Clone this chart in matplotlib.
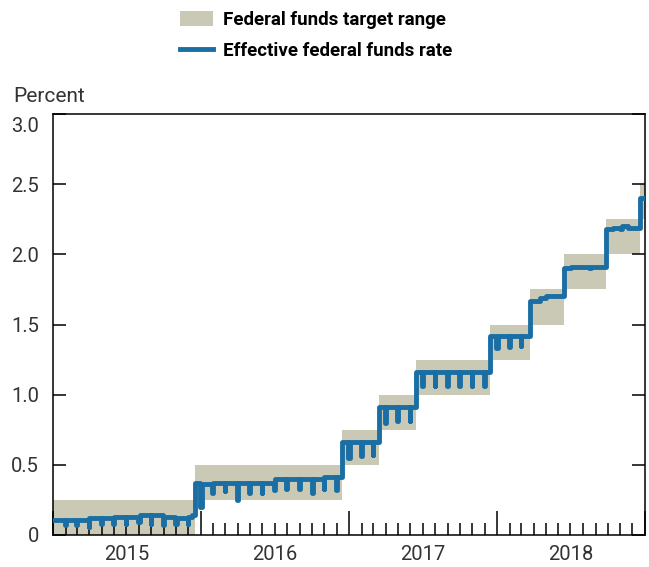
import numpy as np
import matplotlib
matplotlib.use("Agg")
import matplotlib.pyplot as plt
import matplotlib.dates as mdates
from matplotlib.patches import Patch
from matplotlib.lines import Line2D
from matplotlib.transforms import blended_transform_factory, ScaledTranslation

plt.rcParams['font.family'] = ['Roboto', 'DejaVu Sans']

# Federal funds target range (changes take effect on these dates)
range_dates = ["2015-01-01", "2015-12-17", "2016-12-15", "2017-03-16", "2017-06-15",
               "2017-12-14", "2018-03-22", "2018-06-14", "2018-09-27", "2018-12-20",
               "2019-01-01"]
range_lower = [0.00, 0.25, 0.50, 0.75, 1.00, 1.25, 1.50, 1.75, 2.00, 2.25, 2.25]
range_upper = [0.25, 0.50, 0.75, 1.00, 1.25, 1.50, 1.75, 2.00, 2.25, 2.50, 2.50]

# Effective federal funds rate (step series, month-end dips)
effr_dates = [
    "2015-01-01", "2015-01-30", "2015-02-02", "2015-02-27", "2015-03-02", "2015-03-31",
    "2015-04-01", "2015-04-30", "2015-05-01", "2015-05-29", "2015-06-01", "2015-06-30",
    "2015-07-01", "2015-07-31", "2015-08-03", "2015-08-31", "2015-09-01", "2015-09-30",
    "2015-10-01", "2015-10-30", "2015-11-02", "2015-11-30", "2015-12-01", "2015-12-10",
    "2015-12-17", "2015-12-31",
    "2016-01-04", "2016-01-29", "2016-02-01", "2016-02-29", "2016-03-01", "2016-03-31",
    "2016-04-01", "2016-04-29", "2016-05-02", "2016-05-31", "2016-06-01", "2016-06-30",
    "2016-07-01", "2016-07-29", "2016-08-01", "2016-08-31", "2016-09-01", "2016-09-30",
    "2016-10-03", "2016-10-31", "2016-11-01", "2016-11-30", "2016-12-01", "2016-12-15",
    "2016-12-30",
    "2017-01-03", "2017-01-31", "2017-02-01", "2017-02-28", "2017-03-01", "2017-03-16",
    "2017-03-31", "2017-04-03", "2017-04-28", "2017-05-01", "2017-05-31", "2017-06-01",
    "2017-06-15", "2017-06-30", "2017-07-03", "2017-07-31", "2017-08-01", "2017-08-31",
    "2017-09-01", "2017-09-29", "2017-10-02", "2017-10-31", "2017-11-01", "2017-11-30",
    "2017-12-01", "2017-12-14", "2017-12-29",
    "2018-01-02", "2018-01-31", "2018-02-01", "2018-02-28", "2018-03-01", "2018-03-22",
    "2018-04-16", "2018-05-01", "2018-06-14", "2018-07-02", "2018-08-15", "2018-08-20",
    "2018-09-27", "2018-10-15", "2018-11-01", "2018-11-05", "2018-11-20", "2018-12-20",
    "2019-01-01",
]
effr_values = [
    0.11, 0.07, 0.11, 0.07, 0.11, 0.06,
    0.12, 0.08, 0.12, 0.08, 0.13, 0.08,
    0.13, 0.09, 0.14, 0.08, 0.14, 0.07,
    0.13, 0.08, 0.12, 0.08, 0.13, 0.14,
    0.37, 0.20,
    0.36, 0.30, 0.37, 0.31, 0.37, 0.25,
    0.37, 0.30, 0.37, 0.30, 0.37, 0.32,
    0.40, 0.33, 0.40, 0.33, 0.40, 0.30,
    0.40, 0.33, 0.41, 0.32, 0.41, 0.66,
    0.55,
    0.66, 0.56, 0.66, 0.57, 0.66, 0.91,
    0.80, 0.91, 0.81, 0.91, 0.81, 0.91,
    1.16, 1.06, 1.16, 1.06, 1.16, 1.06,
    1.16, 1.06, 1.16, 1.06, 1.16, 1.06,
    1.16, 1.42, 1.33,
    1.42, 1.34, 1.42, 1.35, 1.42, 1.67,
    1.69, 1.70, 1.90, 1.91, 1.90, 1.91,
    2.18, 2.19, 2.18, 2.20, 2.19, 2.40,
    2.40,
]

years = ["2015", "2016", "2017", "2018"]
ytick_vals = [0, 0.5, 1.0, 1.5, 2.0, 2.5, 3.0]
ytick_labels = ["0", "0.5", "1.0", "1.5", "2.0", "2.5", "3.0"]

shade = "#c9c9b6"
blue = "#1a6ea3"

rd = np.array(range_dates, dtype="datetime64[D]")
ed = np.array(effr_dates, dtype="datetime64[D]")

fig = plt.figure(figsize=(6.49, 5.67), dpi=100)
ax = fig.add_axes([53 / 649, 32 / 567, 592 / 649, 421 / 567])

ax.fill_between(rd, range_lower, range_upper, step="post", color=shade, lw=0, zorder=1)
ax.plot(ed, effr_values, drawstyle="steps-post", color=blue, lw=3.5,
        solid_joinstyle="round", solid_capstyle="round", zorder=3)

ax.set_xlim(np.datetime64("2015-01-01"), np.datetime64("2019-01-01"))
ax.set_ylim(0, 3.0)

ax.xaxis.set_major_locator(mdates.YearLocator())
ax.xaxis.set_minor_locator(mdates.MonthLocator())
ax.xaxis.set_major_formatter(plt.NullFormatter())
ax.tick_params(axis="x", which="major", direction="in", length=17, width=1.1, color="black")
ax.tick_params(axis="x", which="minor", direction="in", length=8.5, width=1.1, color="black")

ax.set_yticks(ytick_vals)
ax.set_yticklabels(ytick_labels)
ax.tick_params(axis="y", direction="in", length=9.5, width=1.1, right=True, pad=10,
               labelsize=14.5, labelcolor="#333333")
# top label sits a little below the top spine in the original
top_lbl = ax.get_yticklabels()[-1]
top_lbl.set_transform(top_lbl.get_transform() + ScaledTranslation(0, -10 / 100, fig.dpi_scale_trans))

trans = blended_transform_factory(ax.transData, ax.transAxes)
for y in years:
    ax.text(np.datetime64(y + "-07-02"), -0.024, y, transform=trans, ha="center", va="top",
            fontsize=14.5, color="#333333")

for s in ax.spines.values():
    s.set_linewidth(1.1)
    s.set_color("black")

fig.text(13 / 649, 1 - 96 / 567, "Percent", ha="left", va="center", fontsize=15, color="#333333")

handles = [Patch(facecolor=shade, edgecolor="none"),
           Line2D([0], [0], color=blue, lw=3.5)]
fig.legend(handles, ["Federal funds target range", "Effective federal funds rate"],
           loc="upper left", bbox_to_anchor=(163 / 649, 1 + 6 / 567), frameon=False,
           prop={"weight": "bold", "size": 13.5}, handlelength=1.75,
           handleheight=0.8, handletextpad=0.55, labelspacing=0.7)

fig.savefig("out.png", dpi=100)
